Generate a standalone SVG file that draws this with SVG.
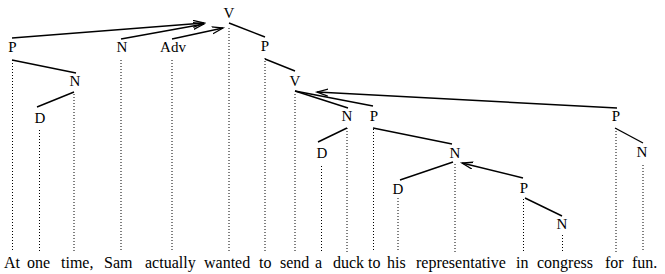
<svg xmlns="http://www.w3.org/2000/svg" width="665" height="274" viewBox="0 0 665 274">
<style>
.lab{font-size:15px;fill:#000;text-anchor:middle}
.w{font-size:16px;fill:#000}
.e{stroke:#000;stroke-width:1.4;fill:none}
.d{stroke:#000;stroke-width:1;stroke-dasharray:1 2;fill:none}
.a{stroke:#000;stroke-width:1.4;fill:none;marker-end:url(#ah)}
</style>
<defs>
<marker id="ah" markerWidth="14" markerHeight="10" refX="11" refY="4" orient="auto" markerUnits="userSpaceOnUse">
<path d="M0,0.5 L11,4 L0,7.5" fill="none" stroke="#000" stroke-width="1.3"/>
</marker>
</defs>
<rect width="665" height="274" fill="#fff"/>
<g id="nodes" font-family="Liberation Serif, Times New Roman, serif">
<g id="n-V1"><text class="lab" x="229" y="18">V</text></g>
<g id="n-P1"><text class="lab" x="12.5" y="52">P</text></g>
<g id="n-N1"><text class="lab" x="122" y="52">N</text></g>
<g id="n-Adv"><text class="lab" x="173" y="52">Adv</text></g>
<g id="n-P2"><text class="lab" x="265" y="51">P</text></g>
<g id="n-N2"><text class="lab" x="75" y="86">N</text></g>
<g id="n-V2"><text class="lab" x="295" y="86">V</text></g>
<g id="n-D1"><text class="lab" x="40" y="123">D</text></g>
<g id="n-N3"><text class="lab" x="347" y="121">N</text></g>
<g id="n-P3"><text class="lab" x="374" y="121">P</text></g>
<g id="n-P4"><text class="lab" x="616" y="121">P</text></g>
<g id="n-D2"><text class="lab" x="322" y="158">D</text></g>
<g id="n-N4"><text class="lab" x="455" y="158">N</text></g>
<g id="n-N5"><text class="lab" x="642" y="157">N</text></g>
<g id="n-D3"><text class="lab" x="398" y="194">D</text></g>
<g id="n-P5"><text class="lab" x="524" y="193">P</text></g>
<g id="n-N6"><text class="lab" x="562" y="229">N</text></g>
</g>
<g id="connectors">
<line class="e" x1="229" y1="23" x2="265" y2="37"/>
<line class="e" x1="265" y1="59" x2="295" y2="71"/>
<line class="e" x1="295" y1="91" x2="348" y2="108"/>
<line class="e" x1="295" y1="91" x2="373" y2="106"/>
<line class="e" x1="12" y1="60" x2="76" y2="73"/>
<line class="e" x1="74" y1="92" x2="37" y2="107"/>
<line class="e" x1="347" y1="128" x2="318" y2="142"/>
<line class="e" x1="373" y1="128" x2="452" y2="144"/>
<line class="e" x1="453" y1="162" x2="400" y2="180"/>
<line class="e" x1="525" y1="198" x2="562" y2="216"/>
<line class="e" x1="615" y1="128" x2="643" y2="143"/>
<line class="a" x1="12" y1="38" x2="204" y2="23"/>
<line class="a" x1="121" y1="39" x2="204" y2="24"/>
<line class="a" x1="172" y1="39" x2="223" y2="28"/>
<line class="a" x1="617" y1="108" x2="317" y2="92"/>
<line class="a" x1="523" y1="178" x2="462" y2="163"/>
<line class="d" x1="12.5" y1="60" x2="12.5" y2="252"/>
<line class="d" x1="39.5" y1="130" x2="39.5" y2="252"/>
<line class="d" x1="74" y1="94" x2="74" y2="252"/>
<line class="d" x1="121" y1="60" x2="121" y2="252"/>
<line class="d" x1="172" y1="60" x2="172" y2="252"/>
<line class="d" x1="229" y1="28" x2="229" y2="252"/>
<line class="d" x1="265" y1="58" x2="265" y2="252"/>
<line class="d" x1="295" y1="94" x2="295" y2="252"/>
<line class="d" x1="321.5" y1="166" x2="321.5" y2="252"/>
<line class="d" x1="347" y1="128" x2="347" y2="252"/>
<line class="d" x1="373.5" y1="129" x2="373.5" y2="252"/>
<line class="d" x1="398" y1="198" x2="398" y2="252"/>
<line class="d" x1="455" y1="164" x2="455" y2="252"/>
<line class="d" x1="523.5" y1="199" x2="523.5" y2="252"/>
<line class="d" x1="562.5" y1="235" x2="562.5" y2="252"/>
<line class="d" x1="616" y1="128" x2="616" y2="252"/>
<line class="d" x1="643" y1="165" x2="643" y2="252"/>
</g>
<g id="words" font-family="Liberation Serif, Times New Roman, serif">
<text class="w" x="4" y="268">At</text>
<text class="w" x="27" y="268">one</text>
<text class="w" x="61" y="268">time,</text>
<text class="w" x="104" y="268">Sam</text>
<text class="w" x="145" y="268">actually</text>
<text class="w" x="204" y="268">wanted</text>
<text class="w" x="259" y="268">to</text>
<text class="w" x="280" y="268">send</text>
<text class="w" x="315" y="268">a</text>
<text class="w" x="333" y="268">duck</text>
<text class="w" x="368" y="268">to</text>
<text class="w" x="387" y="268">his</text>
<text class="w" x="416" y="268">representative</text>
<text class="w" x="516" y="268">in</text>
<text class="w" x="537" y="268">congress</text>
<text class="w" x="605" y="268">for</text>
<text class="w" x="632" y="268">fun.</text>
</g>
</svg>
